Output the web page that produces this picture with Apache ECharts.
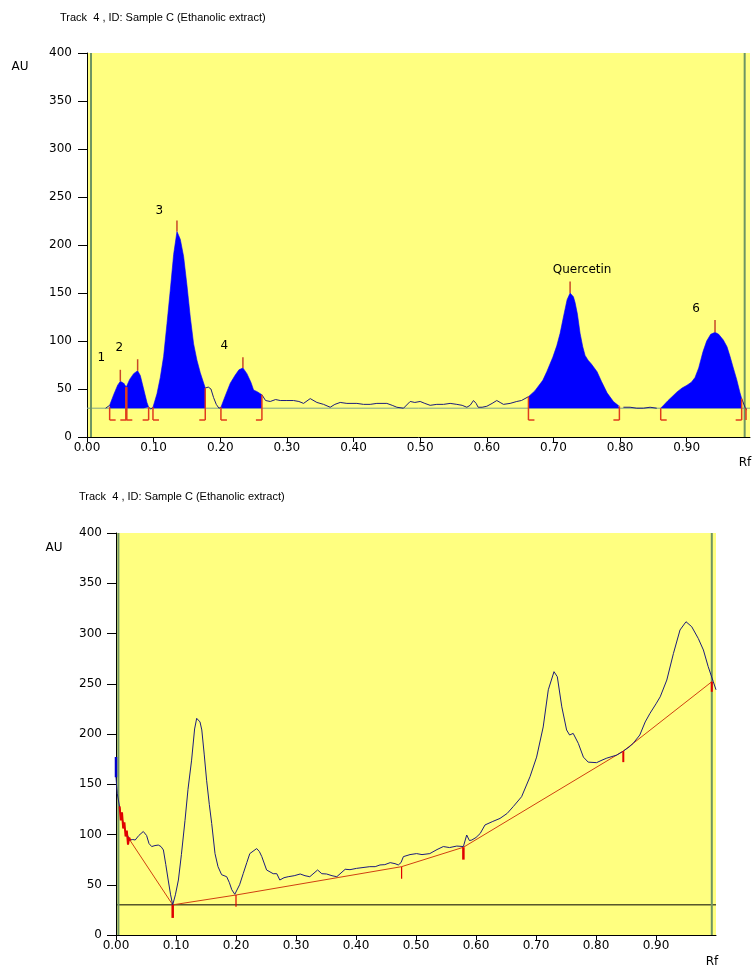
<!DOCTYPE html>
<html><head><meta charset="utf-8">
<script src="https://cdn.jsdelivr.net/npm/echarts@6/dist/echarts.min.js"></script>
<style>html,body{margin:0;padding:0;background:#fff}#c{width:754px;height:967px}</style>
</head><body><div id="c"></div>
<script>
const titleText = 'Track  4 , ID: Sample C (Ethanolic extract)';
const xTickStep = 0.1;
const yTickStep = 50;
const baselineAU = 30;

// Top densitogram: [Rf, AU]
const topTrace = [
[0.028,30],[0.034,33],[0.040,44],[0.046,54],[0.050,58],[0.055,56],[0.059,52],[0.064,60],[0.070,66],[0.076,69],
[0.080,64],[0.085,50],[0.090,36],[0.0925,31],[0.096,29],[0.099,31],[0.105,45],[0.110,62],[0.115,84],[0.120,118],
[0.125,153],[0.130,190],[0.135,214],[0.140,206],[0.145,188],[0.150,158],[0.155,125],[0.160,97],[0.165,80],[0.170,67],
[0.1775,51],[0.182,52],[0.186,50],[0.190,41],[0.194,34],[0.198,30],[0.201,31],[0.207,42],[0.215,56],[0.222,64],
[0.228,70],[0.234,72],[0.240,66],[0.246,57],[0.250,49],[0.256,47],[0.2625,44],[0.268,38],[0.275,37],[0.283,39],
[0.290,38],[0.300,38],[0.310,38],[0.318,37],[0.325,35],[0.335,40],[0.345,36],[0.355,34],[0.365,31],[0.372,34],
[0.380,36],[0.390,35],[0.405,35],[0.415,34],[0.425,34],[0.435,35],[0.450,35],[0.458,33],[0.465,31],[0.475,30],
[0.485,37],[0.492,36],[0.500,37],[0.507,35],[0.515,33],[0.525,34],[0.535,34],[0.545,35],[0.555,34],[0.563,33],
[0.570,31],[0.575,33],[0.580,38],[0.584,35],[0.587,31],[0.593,31],[0.600,32],[0.608,35],[0.615,38],[0.620,36],
[0.625,34],[0.635,35],[0.645,37],[0.652,38],[0.6625,42],[0.672,48],[0.684,59],[0.690,68],[0.699,83],[0.705,95],
[0.710,108],[0.715,125],[0.7205,143],[0.725,150],[0.730,146],[0.7325,140],[0.736,128],[0.740,108],[0.744,94],[0.7475,85],
[0.752,80],[0.757,76],[0.7655,68],[0.772,58],[0.7805,46],[0.790,37],[0.797,33],[0.805,31],[0.815,31],[0.825,30],
[0.835,30],[0.845,31],[0.855,30],[0.863,30],[0.872,38],[0.8855,47],[0.893,51],[0.9005,54],[0.907,57],[0.9125,62],
[0.918,72],[0.9245,89],[0.930,100],[0.936,107],[0.9425,109],[0.948,107],[0.955,101],[0.9605,94],[0.965,84],[0.9695,73],
[0.975,60],[0.980,46],[0.9825,40],[0.9875,31],[0.990,28]
];
const topPeakRanges = [[0.034,0.059],[0.059,0.0925],[0.099,0.1775],[0.201,0.2625],[0.6625,0.799],[0.861,0.9825]];
const topPeakNames = ['1','2','3','4','Quercetin','6'];
const topLabelPos = [[0.0215,82],[0.0485,93],[0.1085,236],[0.206,95],[0.743,174],[0.914,133]];
const topPeakTicks = [[0.050,58,70],[0.076,69,81],[0.135,214,225.5],[0.234,72,83],[0.725,150,162],[0.9425,109,122]];
// [Rf, top of bracket AU, foot direction (1 right, -1 left, 0 both, 2 none), line width]
const topBrackets = [[0.034,31,1,1.5],[0.059,52,0,2.5],[0.0925,31,-1,1.5],[0.099,31,1,1.5],[0.1775,51,-1,1.5],
[0.201,31,1,1.5],[0.2625,44,-1,1.5],[0.6625,42,1,1.5],[0.799,32,-1,1.5],[0.861,30,1,1.5],[0.9825,40,-1,1.5],[0.989,30,2,1.5]];
const topGreenLines = [0.006,0.987];

// Bottom densitogram: [Rf, AU]
const bottomTrace = [
[0.000,177],[0.000,157],[0.002,141],[0.007,124],[0.015,104.5],[0.023,94.5],[0.028,95],[0.032,94.5],[0.038,99],[0.0455,103],
[0.051,99],[0.055,91],[0.0595,88],[0.065,89],[0.0705,89.5],[0.075,88],[0.079,84.6],[0.083,70],[0.087,54.7],[0.091,40],
[0.0945,30],[0.099,40],[0.104,54.7],[0.109,80],[0.115,114],[0.120,145],[0.126,174],[0.131,205],[0.1345,215.6],[0.137,217],
[0.140,212],[0.143,204],[0.147,180],[0.151,154],[0.1555,130],[0.1595,111],[0.165,81],[0.170,68],[0.176,60],[0.1845,58],
[0.189,52],[0.193,45],[0.198,40.5],[0.201,39.8],[0.206,50],[0.212,61],[0.218,72],[0.223,81],[0.2345,86],[0.239,83],
[0.243,78],[0.251,64.7],[0.262,61],[0.268,61],[0.273,54.7],[0.280,57],[0.287,58],[0.297,59],[0.307,60.7],[0.315,59],
[0.323,58],[0.336,64.7],[0.343,61],[0.351,60.7],[0.360,59],[0.368,58],[0.382,65.4],[0.390,65],[0.401,66.3],[0.410,67],
[0.423,68],[0.432,68],[0.440,69.7],[0.448,70],[0.457,72],[0.465,71],[0.4705,69.7],[0.475,72],[0.479,78],[0.490,80],
[0.501,81],[0.510,80],[0.523,81],[0.535,85],[0.5455,88],[0.556,87],[0.568,88.5],[0.579,88],[0.5845,99.5],[0.589,94],
[0.593,94.5],[0.600,97],[0.607,101],[0.615,109.5],[0.628,113],[0.640,116],[0.652,121],[0.662,127.7],[0.676,137.6],[0.690,157.5],
[0.701,177],[0.712,207],[0.7205,244],[0.730,262],[0.7355,257],[0.743,227],[0.751,204],[0.756,199],[0.762,200.6],[0.7705,190.7],
[0.779,177],[0.787,172],[0.801,171.5],[0.810,174],[0.818,176],[0.8345,179],[0.8455,183],[0.855,187],[0.862,190.7],[0.873,199],
[0.882,212],[0.890,220.6],[0.900,230],[0.907,237],[0.918,253.7],[0.929,280],[0.940,303.5],[0.950,311.7],[0.9595,306.8],[0.9705,295],
[0.979,283.6],[0.987,267],[0.9955,252],[1.000,244]
];
const bottomStartSpike = [[0.000,177],[0.000,157]];
const bottomBaseline = [[0.023,94.5],[0.0945,30],[0.200,39.8],[0.476,68],[0.579,87.3],[0.8455,183],[0.993,252]];
// [Rf, from AU, to AU, line width]
const bottomMarks = [[0.0945,30,17,2.5],[0.200,39.8,28,1.2],[0.476,68,56,1.2],[0.579,87.3,75,2.5],[0.8455,183,172,2],[0.993,252,242,2]];
const bottomStartNoise = [[0.006,128],[0.008,114],[0.010,122],[0.012,106],[0.014,112],[0.016,98],[0.018,104],[0.020,90],[0.022,97],[0.024,94]];
const bottomGreenLines = [0.004,0.993];

const FONT = 'DejaVu Sans';
const YELLOW = '#ffff80';
const NAVY = '#1c1c7c';
const BLUE = '#0000ff';
const RED = '#e03c1c';
const GREEN = '#6e9563';
const FOOT_AU = 17.7;

function interp(trace, x){
  for(let i=0;i<trace.length-1;i++){
    const a=trace[i], b=trace[i+1];
    if(x>=a[0] && x<=b[0]){
      if(b[0]===a[0]) return a[1];
      return a[1]+(b[1]-a[1])*(x-a[0])/(b[0]-a[0]);
    }
  }
  return trace[trace.length-1][1];
}
function segment(trace, a, b){
  const pts=[[a,interp(trace,a)]];
  trace.forEach(p=>{ if(p[0]>a && p[0]<b) pts.push(p); });
  pts.push([b,interp(trace,b)]);
  return pts;
}
const topCurveOutside = topTrace.map(p=>{
  const inside = topPeakRanges.some(r=>p[0]>r[0] && p[0]<r[1]);
  return inside ? [p[0], NaN] : p;
});

function yAxisCfg(gi, margin, tick){
  return {type:'value', gridIndex:gi, min:0, max:400, interval:yTickStep,
    axisLine:{show:true, lineStyle:{color:'#000', width:1}},
    axisTick:{show:true, length:tick, lineStyle:{color:'#000'}},
    axisLabel:{margin:margin, fontFamily:FONT, fontSize:12, color:'#000'},
    splitLine:{show:false}};
}
function xAxisCfg(gi, max){
  return {type:'value', gridIndex:gi, min:0, max:max, interval:xTickStep,
    axisLine:{show:true, onZero:false, lineStyle:{color:'#000', width:1}},
    axisTick:{show:true, length:5, lineStyle:{color:'#000'}},
    axisLabel:{margin:5, fontFamily:FONT, fontSize:12, color:'#000', showMaxLabel:false,
      formatter:v=>v.toFixed(2)},
    splitLine:{show:false}};
}

function bracketItem(params, api){
  const x=api.value(0), top=api.value(1), dir=api.value(2), w=api.value(3);
  const a=api.coord([x,top]), b=api.coord([x,FOOT_AU]);
  const st={stroke:RED, lineWidth:w, fill:null};
  const ch=[{type:'line', shape:{x1:a[0],y1:a[1],x2:b[0],y2:b[1]}, style:st}];
  if(dir===1||dir===0) ch.push({type:'line', shape:{x1:b[0],y1:b[1],x2:b[0]+6,y2:b[1]}, style:{stroke:RED,lineWidth:1.5}});
  if(dir===-1||dir===0) ch.push({type:'line', shape:{x1:b[0],y1:b[1],x2:b[0]-6,y2:b[1]}, style:{stroke:RED,lineWidth:1.5}});
  return {type:'group', children:ch};
}
function vtickItem(color){
  return function(params, api){
    const x=api.value(0), y1=api.value(1), y2=api.value(2), w=api.value(3)||1.5;
    const a=api.coord([x,y1]), b=api.coord([x,y2]);
    return {type:'line', shape:{x1:a[0],y1:a[1],x2:b[0],y2:b[1]}, style:{stroke:color, lineWidth:w}};
  };
}
function labelItem(params, api){
  const p=api.coord([api.value(0), api.value(1)]);
  return {type:'text', x:p[0], y:p[1], style:{text:topPeakNames[params.dataIndex], fontFamily:FONT, fontSize:12,
    fill:'#000', textAlign:'center', textVerticalAlign:'middle'}};
}

const series = [];
// Top peak fills
topPeakRanges.forEach(r=>{
  series.push({type:'line', xAxisIndex:0, yAxisIndex:0, data:segment(topTrace,r[0],r[1]),
    symbol:'none', lineStyle:{width:0.6, color:BLUE}, areaStyle:{color:BLUE, opacity:1, origin:baselineAU},
    z:3, silent:true, animation:false});
});
series.push({type:'line', xAxisIndex:0, yAxisIndex:0, data:[[0,baselineAU],[0.995,baselineAU]],
  symbol:'none', lineStyle:{color:'#7fa58a', width:1}, z:2, silent:true, animation:false});
topGreenLines.forEach(x=>series.push({type:'line', xAxisIndex:0, yAxisIndex:0, data:[[x,0],[x,400]],
  symbol:'none', lineStyle:{color:GREEN, width:2}, z:2, silent:true, animation:false}));
series.push({type:'line', xAxisIndex:0, yAxisIndex:0, data:topCurveOutside, connectNulls:false,
  symbol:'none', lineStyle:{color:NAVY, width:1}, z:4, silent:true, animation:false});
series.push({type:'custom', xAxisIndex:0, yAxisIndex:0, data:topBrackets, renderItem:bracketItem, z:5, silent:true, animation:false});
series.push({type:'custom', xAxisIndex:0, yAxisIndex:0, data:topPeakTicks.map(t=>[t[0],t[1],t[2],1.5]), renderItem:vtickItem('#c84828'), z:5, silent:true, animation:false});
series.push({type:'custom', xAxisIndex:0, yAxisIndex:0, data:topLabelPos, renderItem:labelItem, z:6, silent:true, animation:false});

// Bottom
series.push({type:'line', xAxisIndex:1, yAxisIndex:1, data:[[0,baselineAU],[1,baselineAU]],
  symbol:'none', lineStyle:{color:'#000', width:1}, z:2, silent:true, animation:false});
bottomGreenLines.forEach(x=>series.push({type:'line', xAxisIndex:1, yAxisIndex:1, data:[[x,0],[x,400]],
  symbol:'none', lineStyle:{color:GREEN, width:2}, z:2, silent:true, animation:false}));
series.push({type:'line', xAxisIndex:1, yAxisIndex:1, data:bottomBaseline,
  symbol:'none', lineStyle:{color:'#d04010', width:1}, z:3, silent:true, animation:false});
series.push({type:'line', xAxisIndex:1, yAxisIndex:1, data:bottomTrace,
  symbol:'none', lineStyle:{color:NAVY, width:1}, z:4, silent:true, animation:false});
series.push({type:'line', xAxisIndex:1, yAxisIndex:1, data:bottomStartSpike,
  symbol:'none', lineStyle:{color:'#0000cc', width:2.5}, z:4, silent:true, animation:false});
series.push({type:'line', xAxisIndex:1, yAxisIndex:1, data:bottomStartNoise,
  symbol:'none', lineStyle:{color:'#e00000', width:2}, z:5, silent:true, animation:false});
series.push({type:'custom', xAxisIndex:1, yAxisIndex:1, data:bottomMarks, renderItem:vtickItem('#e00000'), z:5, silent:true, animation:false});

const txt = (x,y,t,align)=>({type:'text', x:x, y:y, silent:true,
  style:{text:t, fontFamily:FONT, fontSize:12, fill:'#000', textAlign:align||'left', textVerticalAlign:'middle'}});

const option = {
  animation:false,
  backgroundColor:'#fff',
  grid:[
    {left:87, top:53, width:663, height:384, show:true, backgroundColor:YELLOW, borderWidth:0, containLabel:false},
    {left:116, top:533, width:600, height:402, show:true, backgroundColor:YELLOW, borderWidth:0, containLabel:false}
  ],
  xAxis:[xAxisCfg(0,0.995), xAxisCfg(1,1.0)],
  yAxis:[yAxisCfg(0,15,9), yAxisCfg(1,14,9)],
  graphic:[
    {type:'text', x:60, y:18, silent:true, style:{text:titleText, fontFamily:'Liberation Sans', fontSize:11, fill:'#000', textVerticalAlign:'middle'}},
    {type:'text', x:79, y:497, silent:true, style:{text:titleText, fontFamily:'Liberation Sans', fontSize:11, fill:'#000', textVerticalAlign:'middle'}},
    txt(20,67,'AU','center'),
    txt(54,548,'AU','center'),
    txt(745,463,'Rf','center'),
    txt(712,962,'Rf','center')
  ],
  series:series
};
const chart = echarts.init(document.getElementById('c'), null, {renderer:'canvas'});
chart.setOption(option);
</script></body></html>
